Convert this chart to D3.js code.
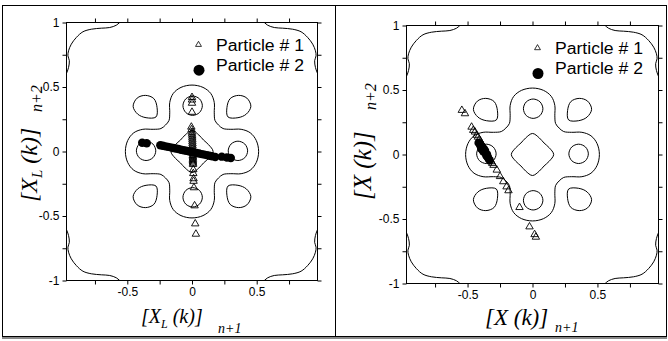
<!DOCTYPE html>
<html>
<head>
<meta charset="utf-8">
<script src="https://cdn.jsdelivr.net/npm/d3@7"></script>
<style>
  body { margin: 0; background: #fff; }
  svg { display: block; }
</style>
</head>
<body>
<div id="chart"></div>
<script>
// ---- axis values ----
const xDomain = [-0.97, 0.97];
const yDomain = [-1, 1];
const xTicks = [-0.75, -0.5, -0.25, 0, 0.25, 0.5, 0.75];
const xTickLabels = ['', '-0.5', '', '0', '', '0.5', ''];
const yTicks = [-1, -0.75, -0.5, -0.25, 0, 0.25, 0.5, 0.75, 1];
const yTickLabels = ['-1', '', '-0.5', '', '0', '', '0.5', '', '1'];
const legendLabels = ['Particle # 1', 'Particle # 2'];

// ---- contour lines (same in both panels) ----
const centerDiamond = [[0.163, 0], [0.128, 0.053], [0.089, 0.089], [0.053, 0.128], [0, 0.163], [-0.053, 0.128],
  [-0.089, 0.089], [-0.128, 0.053], [-0.163, 0], [-0.128, -0.053], [-0.089, -0.089], [-0.053, -0.128],
  [0, -0.163], [0.053, -0.128], [0.089, -0.089], [0.128, -0.053]];
const rightLoop = [[0.43, 0.005], [0.408, 0.058], [0.355, 0.08], [0.302, 0.058], [0.28, 0.005], [0.302, -0.048], [0.355, -0.07], [0.408, -0.048]];
const leftLoop = [[-0.43, 0.005], [-0.408, 0.058], [-0.355, 0.08], [-0.302, 0.058], [-0.28, 0.005], [-0.302, -0.048], [-0.355, -0.07], [-0.408, -0.048]];
const topLoop = [[0.005, 0.43], [0.058, 0.408], [0.08, 0.355], [0.058, 0.302], [0.005, 0.28], [-0.048, 0.302], [-0.07, 0.355], [-0.048, 0.408]];
const bottomLoop = [[0.005, -0.43], [0.058, -0.408], [0.08, -0.355], [0.058, -0.302], [0.005, -0.28], [-0.048, -0.302], [-0.07, -0.355], [-0.048, -0.408]];
const topLeftLoop = [[-0.424, 0.414], [-0.36, 0.435], [-0.295, 0.41], [-0.27, 0.34], [-0.278, 0.268], [-0.355, 0.262], [-0.42, 0.29], [-0.455, 0.35]];
const topRightLoop = [[0.424, 0.414], [0.36, 0.435], [0.295, 0.41], [0.27, 0.34], [0.278, 0.268], [0.355, 0.262], [0.42, 0.29], [0.455, 0.35]];
const bottomLeftLoop = [[-0.424, -0.414], [-0.36, -0.435], [-0.295, -0.41], [-0.27, -0.34], [-0.278, -0.268], [-0.355, -0.262], [-0.42, -0.29], [-0.455, -0.35]];
const bottomRightLoop = [[0.424, -0.414], [0.36, -0.435], [0.295, -0.41], [0.27, -0.34], [0.278, -0.268], [0.355, -0.262], [0.42, -0.29], [0.455, -0.35]];
const crossContour = [
  [0, 0.515], [0.085, 0.497], [0.145, 0.45], [0.172, 0.38], [0.172, 0.30], [0.178, 0.24], [0.205, 0.205], [0.24, 0.178], [0.30, 0.172], [0.38, 0.172], [0.45, 0.145], [0.497, 0.085],
  [0.515, 0], [0.497, -0.085], [0.45, -0.145], [0.38, -0.172], [0.30, -0.172], [0.24, -0.178], [0.205, -0.205], [0.178, -0.24], [0.172, -0.30], [0.172, -0.38], [0.145, -0.45], [0.085, -0.497],
  [0, -0.515], [-0.085, -0.497], [-0.145, -0.45], [-0.172, -0.38], [-0.172, -0.30], [-0.178, -0.24], [-0.205, -0.205], [-0.24, -0.178], [-0.30, -0.172], [-0.38, -0.172], [-0.45, -0.145], [-0.497, -0.085],
  [-0.515, 0], [-0.497, 0.085], [-0.45, 0.145], [-0.38, 0.172], [-0.30, 0.172], [-0.24, 0.178], [-0.205, 0.205], [-0.178, 0.24], [-0.172, 0.30], [-0.172, 0.38], [-0.145, 0.45], [-0.085, 0.497]];
const outerTopLeft = [[-0.5, 1.04], [-0.559, 1.0], [-0.585, 0.979], [-0.636, 0.961], [-0.70, 0.956], [-0.778, 0.948], [-0.843, 0.928], [-0.894, 0.884],
  [-0.933, 0.832], [-0.954, 0.781], [-0.959, 0.742], [-0.948, 0.704], [-0.954, 0.652], [-0.967, 0.613], [-0.985, 0.57]];
const outerTopRight = [[0.5, 1.04], [0.559, 1.0], [0.585, 0.979], [0.636, 0.961], [0.70, 0.956], [0.778, 0.948], [0.843, 0.928], [0.894, 0.884],
  [0.933, 0.832], [0.954, 0.781], [0.959, 0.742], [0.948, 0.704], [0.954, 0.652], [0.967, 0.613], [0.985, 0.57]];
const outerBottomLeft = [[-0.5, -1.04], [-0.559, -1.0], [-0.585, -0.979], [-0.636, -0.961], [-0.70, -0.956], [-0.778, -0.948], [-0.843, -0.928], [-0.894, -0.884],
  [-0.933, -0.832], [-0.954, -0.781], [-0.959, -0.742], [-0.948, -0.704], [-0.954, -0.652], [-0.967, -0.613], [-0.985, -0.57]];
const outerBottomRight = [[0.5, -1.04], [0.559, -1.0], [0.585, -0.979], [0.636, -0.961], [0.70, -0.956], [0.778, -0.948], [0.843, -0.928], [0.894, -0.884],
  [0.933, -0.832], [0.954, -0.781], [0.959, -0.742], [0.948, -0.704], [0.954, -0.652], [0.967, -0.613], [0.985, -0.57]];

// ---- particle points ----
const leftParticle1 = [[0.0, 0.42], [0.0, 0.40], [0.0, 0.375], [0.0, 0.305], [-0.005, 0.19], [-0.003, 0.17], [0.0, 0.15], [0.0, 0.135],
  [0.002, 0.12], [0.002, 0.105], [0.003, 0.09], [0.003, 0.075], [0.004, 0.06], [0.004, 0.045], [0.005, 0.03], [0.005, 0.015],
  [0.006, 0.0], [0.006, -0.015], [0.006, -0.03], [0.007, -0.04], [0.007, -0.05], [0.007, -0.06], [0.007, -0.07], [0.007, -0.08],
  [0.008, -0.09], [0.008, -0.10], [0.01, -0.14], [0.01, -0.17], [0.012, -0.21], [0.012, -0.23], [0.015, -0.28], [0.02, -0.42],
  [0.025, -0.56], [0.03, -0.64]];
const leftParticle2 = [[-0.385, 0.068], [-0.35, 0.064], [-0.245, 0.048], [-0.225, 0.044], [-0.205, 0.040], [-0.185, 0.036], [-0.165, 0.032],
  [-0.145, 0.027], [-0.125, 0.023], [-0.105, 0.019], [-0.085, 0.014], [-0.065, 0.010], [-0.045, 0.006], [-0.025, 0.002], [-0.005, -0.003],
  [0.015, -0.007], [0.035, -0.011], [0.055, -0.016], [0.075, -0.020], [0.095, -0.024], [0.115, -0.028], [0.135, -0.033], [0.155, -0.037],
  [0.18, -0.043], [0.23, -0.04], [0.27, -0.047], [0.30, -0.05]];
const rightParticle1 = [[-0.544, 0.343], [-0.52, 0.317], [-0.469, 0.213], [-0.456, 0.188], [-0.443, 0.175], [-0.43, 0.15], [-0.42, 0.135],
  [-0.41, 0.118], [-0.40, 0.10], [-0.39, 0.083], [-0.38, 0.065], [-0.37, 0.047], [-0.36, 0.03], [-0.35, 0.01], [-0.34, -0.008],
  [-0.333, -0.025], [-0.325, -0.04], [-0.318, -0.055], [-0.31, -0.068], [-0.30, -0.083], [-0.275, -0.12], [-0.25, -0.17],
  [-0.225, -0.21], [-0.2, -0.25], [-0.185, -0.28], [-0.10, -0.41], [-0.023, -0.56], [0.016, -0.62], [0.026, -0.64]];
const rightParticle2 = [[-0.415, 0.09], [-0.405, 0.08], [-0.40, 0.065], [-0.39, 0.06], [-0.395, 0.045], [-0.385, 0.04], [-0.375, 0.045],
  [-0.38, 0.025], [-0.37, 0.02], [-0.365, 0.03], [-0.36, 0.005], [-0.355, -0.01], [-0.35, 0.0], [-0.345, -0.02], [-0.34, -0.03], [-0.33, -0.045]];

const closedContours = [centerDiamond, rightLoop, leftLoop, topLoop, bottomLoop,
  topLeftLoop, topRightLoop, bottomLeftLoop, bottomRightLoop, crossContour];
const outerContours = [outerTopLeft, outerTopRight, outerBottomLeft, outerBottomRight];

const width = 668, height = 341;
const svg = d3.select('#chart').append('svg').attr('width', width).attr('height', height);
svg.append('rect').attr('width', width).attr('height', height).attr('fill', '#fff');

// table-like border around the two panels
svg.append('rect').attr('x', 2.5).attr('y', 5.5).attr('width', 664).attr('height', 331)
  .attr('fill', 'none').attr('stroke', '#000');
svg.append('line').attr('x1', 2).attr('x2', 667).attr('y1', 338).attr('y2', 338).attr('stroke', '#888').attr('stroke-width', 2);
svg.append('line').attr('x1', 335.5).attr('x2', 335.5).attr('y1', 5.5).attr('y2', 336.5).attr('stroke', '#000');

const serif = '"Liberation Serif", "Times New Roman", serif';
const sans = 'Arial, "Liberation Sans", sans-serif';

function styleAxis(sel) {
  sel.select('.domain').remove();
  sel.attr('font-family', sans).attr('font-size', 12);
  sel.selectAll('.tick line').attr('stroke', '#000');
  sel.selectAll('.tick text').attr('fill', '#000');
}

function addLabel(parent, sub, size, x, y) {
  const t = parent.append('text').attr('x', x).attr('y', y)
    .attr('font-family', serif).attr('font-style', 'italic').attr('font-size', size).attr('fill', '#000');
  t.append('tspan').text('[X');
  if (sub) {
    t.append('tspan').attr('font-size', Math.round(size * 0.62)).attr('dy', 5).text('L');
    t.append('tspan').attr('dy', -5).text(' (k)]');
  } else {
    t.append('tspan').text(' (k)]');
  }
  return t;
}

function drawPanel(p) {
  const x = d3.scaleLinear().domain(xDomain).range([p.left, p.right]);
  const y = d3.scaleLinear().domain(yDomain).range([p.bottom, p.top]);
  const g = svg.append('g');

  g.append('clipPath').attr('id', 'clip-' + p.id).append('rect')
    .attr('x', p.left).attr('y', p.top).attr('width', p.right - p.left).attr('height', p.bottom - p.top);

  const closedLine = d3.line().x(d => x(d[0])).y(d => y(d[1])).curve(d3.curveCatmullRomClosed.alpha(0.5));
  const openLine = d3.line().x(d => x(d[0])).y(d => y(d[1])).curve(d3.curveCatmullRom.alpha(0.5));

  const cg = g.append('g').attr('clip-path', 'url(#clip-' + p.id + ')')
    .attr('fill', 'none').attr('stroke', '#000').attr('stroke-width', 1);
  cg.selectAll('path.loop').data(closedContours).join('path').attr('class', 'loop').attr('d', closedLine);
  cg.selectAll('path.outer').data(outerContours).join('path').attr('class', 'outer').attr('d', openLine);

  // particle 1: open triangles
  const tri = d3.symbol().type(d3.symbolTriangle).size(24);
  g.append('g').selectAll('path').data(p.particle1).join('path')
    .attr('d', tri)
    .attr('transform', d => 'translate(' + x(d[0]) + ',' + y(d[1]) + ')')
    .attr('fill', 'none').attr('stroke', '#000').attr('stroke-width', 0.9);

  // particle 2: filled circles
  g.append('g').selectAll('circle').data(p.particle2).join('circle')
    .attr('cx', d => x(d[0])).attr('cy', d => y(d[1])).attr('r', 4.2).attr('fill', '#000');

  // frame and axes
  g.append('rect').attr('x', p.left).attr('y', p.top).attr('width', p.right - p.left).attr('height', p.bottom - p.top)
    .attr('fill', 'none').attr('stroke', '#000');
  g.append('g').attr('transform', 'translate(0,' + p.bottom + ')')
    .call(d3.axisBottom(x).tickValues(xTicks).tickSize(4).tickFormat((d, i) => xTickLabels[i])).call(styleAxis);
  g.append('g').attr('transform', 'translate(0,' + p.top + ')')
    .call(d3.axisTop(x).tickValues(xTicks).tickSize(4).tickFormat('')).call(styleAxis);
  g.append('g').attr('transform', 'translate(' + p.left + ',0)')
    .call(d3.axisLeft(y).tickValues(yTicks).tickSize(4).tickFormat((d, i) => yTickLabels[i])).call(styleAxis);
  g.append('g').attr('transform', 'translate(' + p.right + ',0)')
    .call(d3.axisRight(y).tickValues(yTicks).tickSize(4).tickFormat('')).call(styleAxis);

  // legend
  const lg = g.append('g');
  lg.append('path').attr('d', d3.symbol().type(d3.symbolTriangle).size(15))
    .attr('transform', 'translate(' + p.legX + ',' + (p.legY - 6) + ')')
    .attr('fill', 'none').attr('stroke', '#000').attr('stroke-width', 0.8);
  lg.append('circle').attr('cx', p.legX + 0.5).attr('cy', p.legY + 19.5).attr('r', 5.5).attr('fill', '#000');
  legendLabels.forEach((name, i) => {
    lg.append('text').attr('x', p.legX + 17.5).attr('y', p.legY + i * 20.3)
      .attr('font-family', sans).attr('font-size', 16).attr('fill', '#000')
      .attr('textLength', 88).attr('lengthAdjust', 'spacingAndGlyphs').text(name);
  });

  // axis titles
  const xt = addLabel(g, p.sub, p.xTitleSize, p.xLabX, p.xLabY);
  xt.append('tspan').attr('x', p.xSubX).attr('dy', p.sub ? 10 : 7).attr('font-size', 14).text('n+1');

  const yg = g.append('g').attr('transform', 'translate(' + p.yLabX + ',' + p.yLabY + ') rotate(-90)');
  const yt = addLabel(yg, p.sub, p.yTitleSize, 0, 0);
  yt.append('tspan').attr('x', p.ySubX).attr('dy', 5).attr('font-size', 16).text('n+2');
}

drawPanel({
  id: 'a', left: 66.5, right: 317.5, top: 22.5, bottom: 280.5, sub: true, xTitleSize: 20, yTitleSize: 24,
  particle1: leftParticle1, particle2: leftParticle2,
  legX: 198.5, legY: 50.7,
  xLabX: 141, xLabY: 323, xSubX: 218,
  yLabX: 37, yLabY: 202, ySubX: 90
});
drawPanel({
  id: 'b', left: 406.5, right: 658.5, top: 25.5, bottom: 283.5, sub: false, xTitleSize: 23, yTitleSize: 25,
  particle1: rightParticle1, particle2: rightParticle2,
  legX: 537.5, legY: 54,
  xLabX: 485, xLabY: 325, xSubX: 555,
  yLabX: 371, yLabY: 200, ySubX: 90
});
</script>
</body>
</html>
